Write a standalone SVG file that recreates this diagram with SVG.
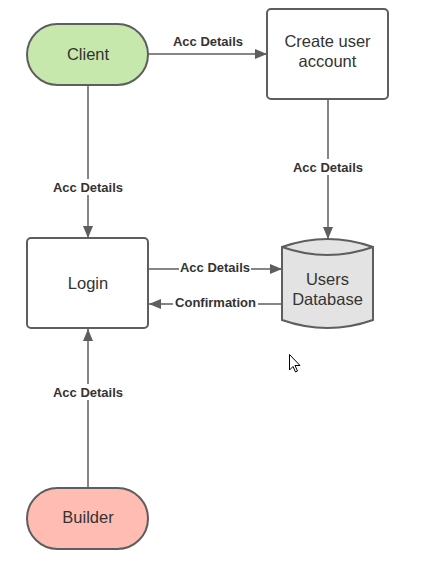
<svg xmlns="http://www.w3.org/2000/svg" width="428" height="573" viewBox="0 0 428 573">
<defs>
<style>
.node{stroke:#5e5e5e;stroke-width:2}
.nt{font-family:"Liberation Sans",Arial,sans-serif;font-size:16.5px;fill:#333;text-anchor:middle;dominant-baseline:central}
.edge{stroke:#5e5e5e;stroke-width:1.5;fill:none}
.lbl{font-family:"Liberation Sans",Arial,sans-serif;font-size:13px;font-weight:bold;fill:#333;text-anchor:middle;dominant-baseline:central}
.bg{fill:#fff}
</style>
<marker id="arr" viewBox="0 0 12 10" refX="12" refY="5" markerWidth="12" markerHeight="10" markerUnits="userSpaceOnUse" orient="auto">
<path d="M0,0 L12,5 L0,10 Z" fill="#5e5e5e"/>
</marker>
</defs>
<rect width="428" height="573" fill="#fff"/>
<g id="connectors">
<g id="e1"><line class="edge" x1="148" y1="54" x2="267" y2="54" marker-end="url(#arr)"/><text class="lbl" x="208" y="41">Acc Details</text></g>
<g id="e2"><line class="edge" x1="88" y1="85" x2="88" y2="238" marker-end="url(#arr)"/><rect class="bg" x="50" y="179" width="76" height="16"/><text class="lbl" x="88" y="187">Acc Details</text></g>
<g id="e3"><line class="edge" x1="328" y1="99" x2="328" y2="239" marker-end="url(#arr)"/><rect class="bg" x="290" y="159" width="76" height="16"/><text class="lbl" x="328" y="167">Acc Details</text></g>
<g id="e4"><line class="edge" x1="148" y1="269" x2="282" y2="269" marker-end="url(#arr)"/><rect class="bg" x="179" y="261" width="72" height="14"/><text class="lbl" x="215" y="267.5">Acc Details</text></g>
<g id="e5"><line class="edge" x1="282" y1="304" x2="149" y2="304" marker-end="url(#arr)"/><rect class="bg" x="173" y="296" width="85" height="14"/><text class="lbl" x="215.5" y="302">Confirmation</text></g>
<g id="e6"><line class="edge" x1="88" y1="488" x2="88" y2="329" marker-end="url(#arr)"/><rect class="bg" x="50" y="384" width="76" height="16"/><text class="lbl" x="88" y="392">Acc Details</text></g>
</g>
<g id="client"><rect class="node" x="27" y="24" width="121" height="61" rx="30.5" fill="#c7e8ac"/><text class="nt" x="88" y="53.5">Client</text></g>
<g id="create"><rect class="node" x="267" y="9" width="121" height="90" rx="4" fill="#fff"/><text class="nt" x="327.5" y="41">Create user</text><text class="nt" x="327.5" y="61">account</text></g>
<g id="login"><rect class="node" x="27" y="238" width="121" height="90" rx="4" fill="#fff"/><text class="nt" x="88" y="282.5">Login</text></g>
<g id="db"><path class="node" fill="#e3e3e3" d="M282,247 Q327.5,231 373,247 L373,320 Q327.5,336 282,320 Z"/><path class="node" fill="none" d="M282,247 Q327.5,263 373,247"/><text class="nt" x="327.5" y="278.5">Users</text><text class="nt" x="327.5" y="298.5">Database</text></g>
<g id="builder"><rect class="node" x="27" y="488" width="121" height="61" rx="30.5" fill="#ffbcb2"/><text class="nt" x="88" y="517">Builder</text></g>
<g id="cursor"><path d="M289.5,354.5 L289.5,370 L293,366.5 L295.5,372 L297.5,371 L295,365.5 L300,365.5 Z" fill="#fff" stroke="#000" stroke-width="1"/></g>
</svg>
